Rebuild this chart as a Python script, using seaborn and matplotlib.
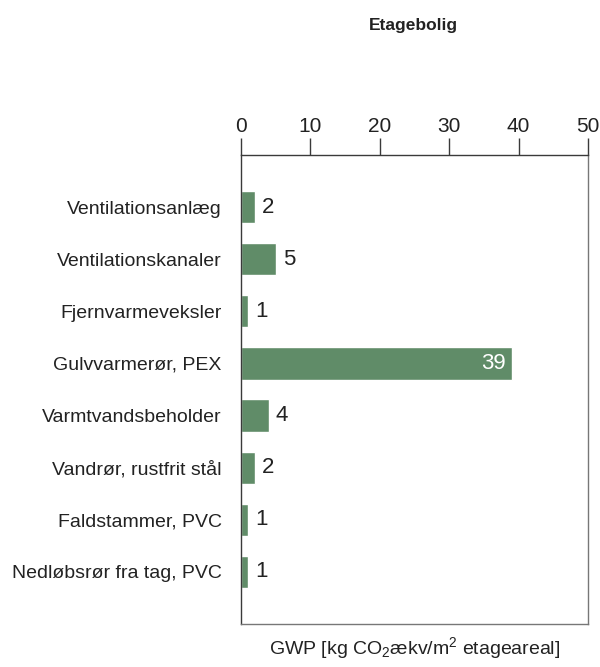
import matplotlib
matplotlib.use("Agg")
import matplotlib.pyplot as plt
import seaborn as sns
import pandas as pd

categories = [
    "Ventilationsanlæg",
    "Ventilationskanaler",
    "Fjernvarmeveksler",
    "Gulvvarmerør, PEX",
    "Varmtvandsbeholder",
    "Vandrør, rustfrit stål",
    "Faldstammer, PVC",
    "Nedløbsrør fra tag, PVC",
]
values = [2, 5, 1, 39, 4, 2, 1, 1]
x_ticks = [0, 10, 20, 30, 40, 50]
title = "Etagebolig"
x_label = "GWP [kg CO$_2$ækv/m$^2$ etageareal]"

sns.set_theme(style="white")
plt.rcParams["font.family"] = ["Liberation Sans", "DejaVu Sans"]
plt.rcParams["mathtext.fontset"] = "custom"
plt.rcParams["mathtext.rm"] = "Liberation Sans"
plt.rcParams["mathtext.it"] = "Liberation Sans"
plt.rcParams["mathtext.default"] = "regular"

bar_color = "#608c68"
text_color = "#222222"
spine_color = "#3a3a3a"

df = pd.DataFrame({"kategori": categories, "gwp": values})

fig = plt.figure(figsize=(6.0, 6.67), dpi=100)
ax = fig.add_axes([0.4017, 0.0645, 0.5783, 0.7031])

sns.barplot(data=df, y="kategori", x="gwp", orient="h", color=bar_color,
            width=0.62, saturation=1, ax=ax)

ax.set_xlim(0, 50)
ax.set_ylim(len(categories), -1)

ax.xaxis.tick_top()
ax.set_xticks(x_ticks)
ax.set_xticklabels([str(t) for t in x_ticks])
ax.tick_params(axis="x", which="major", top=True, bottom=False, length=12,
               width=1, color=spine_color, labelsize=15, labelcolor=text_color,
               pad=2, direction="out")
ax.tick_params(axis="y", left=False, length=0, labelsize=14,
               labelcolor=text_color, pad=14)
ax.set_ylabel("")

ax.xaxis.set_label_position("bottom")
ax.set_xlabel(x_label, fontsize=14, color=text_color, labelpad=8)

for side in ["left", "top", "right", "bottom"]:
    ax.spines[side].set_visible(True)
    ax.spines[side].set_color(spine_color)
    ax.spines[side].set_linewidth(1.0)
ax.spines["right"].set_color("#777777")
ax.spines["bottom"].set_color("#777777")

for i, v in enumerate(values):
    if v > 30:
        ax.text(v - 0.9, i, str(v), ha="right", va="center", fontsize=16,
                color="white")
    else:
        ax.text(v + 1.0, i, str(v), ha="left", va="center", fontsize=16,
                color=text_color)

fig.text(0.689, 0.962, title, ha="center", va="center", fontsize=12.5,
         fontweight="bold", color=text_color)

fig.savefig("out.png", dpi=100)
